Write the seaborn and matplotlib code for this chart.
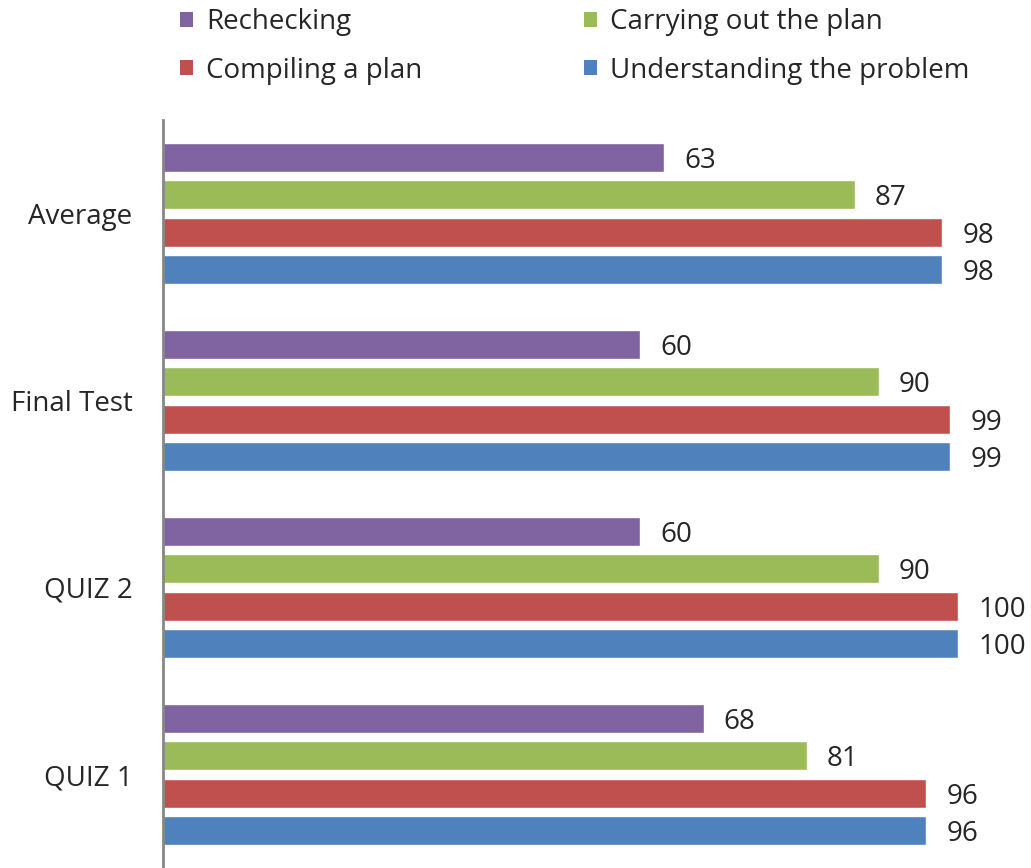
import matplotlib
matplotlib.use("Agg")
import matplotlib.pyplot as plt
import seaborn as sns
import pandas as pd
from matplotlib.patches import Patch

categories = ["Average", "Final Test", "QUIZ 2", "QUIZ 1"]
series = ["Rechecking", "Carrying out the plan", "Compiling a plan", "Understanding the problem"]
rechecking = [63, 60, 60, 68]
carrying = [87, 90, 90, 81]
compiling = [98, 99, 100, 96]
understanding = [98, 99, 100, 96]
colors = ["#8064A2", "#9BBB59", "#C0504D", "#4F81BD"]

rows = []
for s, vals in zip(series, [rechecking, carrying, compiling, understanding]):
    for c, v in zip(categories, vals):
        rows.append({"cat": c, "series": s, "value": v})
df = pd.DataFrame(rows)

sns.set_theme(style="white")
plt.rcParams['font.family'] = ['Open Sans', 'DejaVu Sans']

fig = plt.figure(figsize=(10.31, 8.68), dpi=100)
ax = fig.add_axes([163/1031, 0, 795/1031, 748/868])

sns.barplot(data=df, x="value", y="cat", hue="series", order=categories,
            hue_order=series, palette=colors, orient="h", width=0.8, gap=0.22,
            saturation=1, ax=ax, legend=False, errorbar=None)

ax.set_xlim(0, 100)
ax.set_ylim(3.5, -0.5)
ax.set_xlabel("")
ax.set_ylabel("")
ax.set_xticks([])
for sp in ["top", "right", "bottom"]:
    ax.spines[sp].set_visible(False)
ax.spines["left"].set_color("#868686")
ax.spines["left"].set_linewidth(2)
ax.tick_params(axis="y", length=0, pad=22, labelsize=20)

for container in ax.containers:
    for bar in container:
        w = bar.get_width()
        ax.annotate(f"{w:.0f}", (w, bar.get_y() + bar.get_height() / 2),
                    xytext=(14.5, 0), textcoords="offset points",
                    ha="left", va="center_baseline", fontsize=20, annotation_clip=False)

handles = [Patch(facecolor=c, edgecolor="none") for c in colors]
common = dict(loc="upper left", frameon=False, fontsize=20, handlelength=0.45,
              handleheight=0.45, handletextpad=0.5, labelspacing=0.74,
              borderpad=0, borderaxespad=0)
leg1 = fig.legend([handles[0], handles[2]], [series[0], series[2]],
                  bbox_to_anchor=(180/1031, 1 - 8/868), **common)
leg2 = fig.legend([handles[1], handles[3]], [series[1], series[3]],
                  bbox_to_anchor=(584/1031, 1 - 8/868), **common)

fig.savefig("out.png", dpi=100)
